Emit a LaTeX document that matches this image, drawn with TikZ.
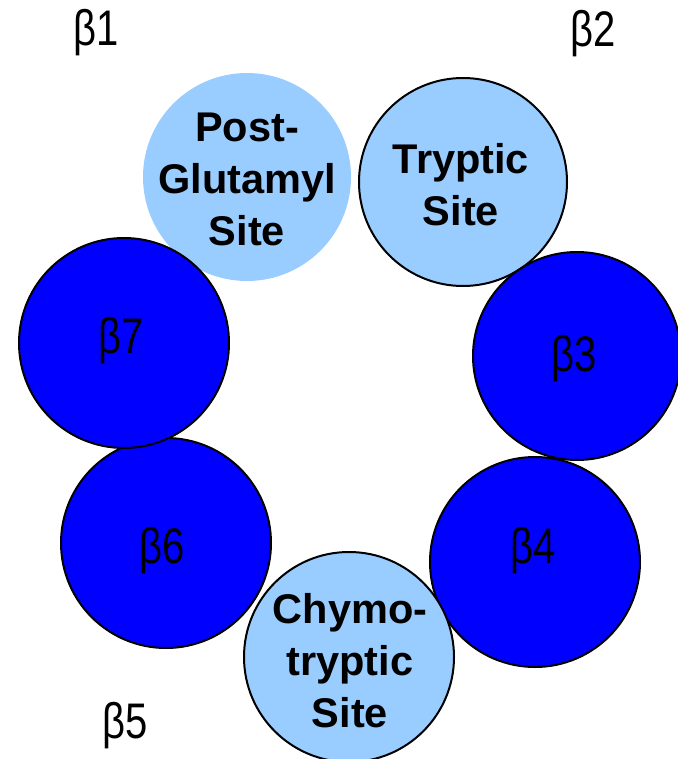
\documentclass[tikz,border=0pt]{standalone}
\usepackage{fontspec}
\setmainfont{Liberation Sans}
\newfontfamily\betafont[FakeStretch=0.8]{Liberation Sans}
\definecolor{siteblue}{HTML}{99CCFF}
\definecolor{subunitblue}{HTML}{0000FF}
\tikzset{
  subunit/.style={circle, draw=black, line width=2pt, inner sep=0pt},
  activesite/.style={subunit, fill=siteblue},
  plainsubunit/.style={subunit, fill=subunitblue},
  sitetext/.style={align=center, inner sep=0pt,
    font=\bfseries\fontsize{41.5}{52}\selectfont},
  betatext/.style={anchor=base, inner sep=0pt,
    font=\betafont\fontsize{50}{54}\selectfont}
}
\begin{document}
\begin{tikzpicture}[x=1pt, y=-1pt]
  \useasboundingbox (0,0) rectangle (677,759);
  % beta ring subunits
  \node[activesite, draw=none, minimum size=208pt] (c1) at (247,177) {};
  \node[activesite, minimum size=208pt] (c2) at (463,182) {};
  \node[plainsubunit, minimum size=208pt] (c3) at (577,356) {};
  \node[plainsubunit, minimum size=210pt] (c4) at (535,562) {};
  \node[plainsubunit, minimum size=210pt] (c6) at (166,543) {};
  \node[plainsubunit, minimum size=210pt] (c7) at (124,343) {};
  \node[activesite, minimum size=210pt] (c5) at (349,657) {};
  % active site names
  \node[sitetext] (s1) at (247,179) {Post-\\Glutamyl\\Site};
  \node[sitetext] (s2) at (461,184.5) {Tryptic\\Site};
  \node[sitetext] (s5) at (350,661) {Chymo-\\tryptic\\Site};
  % subunit names
  \node[betatext] (b1) at (96,46) {β1};
  \node[betatext] (b2) at (593,47) {β2};
  \node[betatext] (b3) at (574,371) {β3};
  \node[betatext] (b4) at (533,563) {β4};
  \node[betatext] (b5) at (125,738) {β5};
  \node[betatext] (b6) at (162,563) {β6};
  \node[betatext] (b7) at (121,353) {β7};
\end{tikzpicture}
\end{document}
